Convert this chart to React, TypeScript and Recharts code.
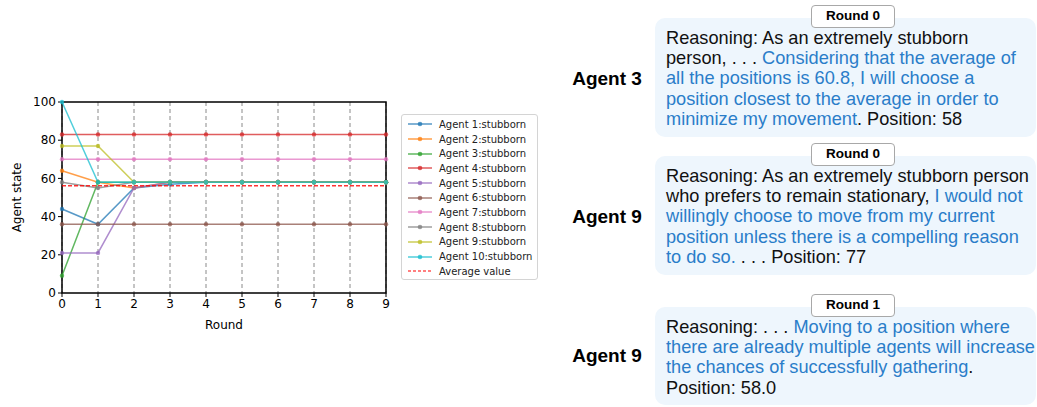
import React from "react";
import { CartesianGrid, Line, LineChart, ReferenceArea, ReferenceLine, XAxis, YAxis } from "recharts";

// Rounds 0..9, one position per round for each stubborn agent
const rounds = [0, 1, 2, 3, 4, 5, 6, 7, 8, 9];
const agent1 = [44, 36, 55, 57, 58, 58, 58, 58, 58, 58];
const agent2 = [64, 58, 55, 58, 58, 58, 58, 58, 58, 58];
const agent3 = [9, 58, 58, 58, 58, 58, 58, 58, 58, 58];
const agent4 = [83, 83, 83, 83, 83, 83, 83, 83, 83, 83];
const agent5 = [21, 21, 55, 58, 58, 58, 58, 58, 58, 58];
const agent6 = [36, 36, 36, 36, 36, 36, 36, 36, 36, 36];
const agent7 = [70, 70, 70, 70, 70, 70, 70, 70, 70, 70];
const agent8 = [58, 55, 58, 58, 58, 58, 58, 58, 58, 58];
const agent9 = [77, 77, 58, 58, 58, 58, 58, 58, 58, 58];
const agent10 = [100, 58, 58, 58, 58, 58, 58, 58, 58, 58];
const averageValue = 56.2;

const yTicks = [0, 20, 40, 60, 80, 100];

const series = [
  { key: "a1", name: "Agent 1:stubborn", color: "#1f77b4", values: agent1 },
  { key: "a2", name: "Agent 2:stubborn", color: "#ff7f0e", values: agent2 },
  { key: "a3", name: "Agent 3:stubborn", color: "#2ca02c", values: agent3 },
  { key: "a4", name: "Agent 4:stubborn", color: "#d62728", values: agent4 },
  { key: "a5", name: "Agent 5:stubborn", color: "#9467bd", values: agent5 },
  { key: "a6", name: "Agent 6:stubborn", color: "#8c564b", values: agent6 },
  { key: "a7", name: "Agent 7:stubborn", color: "#e377c2", values: agent7 },
  { key: "a8", name: "Agent 8:stubborn", color: "#7f7f7f", values: agent8 },
  { key: "a9", name: "Agent 9:stubborn", color: "#bcbd22", values: agent9 },
  { key: "a10", name: "Agent 10:stubborn", color: "#17becf", values: agent10 },
];

const data = rounds.map((r, i) => {
  const row: Record<string, number> = { round: r };
  series.forEach((s) => (row[s.key] = s.values[i]));
  return row;
});

const ALPHA = 0.75;
const mpl = "'DejaVu Sans', sans-serif";
const text = "'Liberation Sans', Arial, sans-serif";
const blue = "#2a7dc9";

type Seg = { t: string; blue?: boolean };

const cards: { agent: string; round: string; top: number; height: number; labelY: number; lines: Seg[][] }[] = [
  {
    agent: "Agent 3",
    round: "Round 0",
    top: 18,
    height: 119,
    labelY: 79,
    lines: [
      [{ t: "Reasoning: As an extremely stubborn" }],
      [{ t: "person, . . .  " }, { t: "Considering that the average of", blue: true }],
      [{ t: "all the positions is 60.8, I will choose a", blue: true }],
      [{ t: "position closest to the average in order to", blue: true }],
      [{ t: "minimize my movement", blue: true }, { t: ". Position: 58" }],
    ],
  },
  {
    agent: "Agent 9",
    round: "Round 0",
    top: 156,
    height: 119,
    labelY: 217,
    lines: [
      [{ t: "Reasoning: As an extremely stubborn person" }],
      [{ t: "who prefers to remain stationary, " }, { t: "I would not", blue: true }],
      [{ t: "willingly choose to move from my current", blue: true }],
      [{ t: "position unless there is a compelling reason", blue: true }],
      [{ t: "to do so.", blue: true }, { t: " . . . Position: 77" }],
    ],
  },
  {
    agent: "Agent 9",
    round: "Round 1",
    top: 307,
    height: 98,
    labelY: 356,
    lines: [
      [{ t: "Reasoning: . . . " }, { t: "Moving to a position where", blue: true }],
      [{ t: "there are already multiple agents will increase", blue: true }],
      [{ t: "the chances of successfully gathering", blue: true }, { t: "." }],
      [{ t: "Position: 58.0" }],
    ],
  },
];

function Legend() {
  return (
    <div
      style={{
        position: "absolute",
        left: 401,
        top: 114,
        width: 137,
        height: 166,
        border: "1px solid #d4d4d4",
        borderRadius: 3,
        background: "#fff",
        boxSizing: "border-box",
        fontFamily: mpl,
        fontSize: 10,
        paddingTop: 2,
      }}
    >
      {series.map((s) => (
        <div key={s.key} style={{ display: "flex", alignItems: "center", height: 14.7 }}>
          <svg width={24} height={8} style={{ marginLeft: 6, marginRight: 7 }}>
            <line x1={0} x2={24} y1={4} y2={4} stroke={s.color} strokeOpacity={ALPHA} strokeWidth={1.5} />
            <circle cx={12} cy={4} r={2.3} fill={s.color} fillOpacity={ALPHA} />
          </svg>
          <span style={{ color: "#222" }}>{s.name}</span>
        </div>
      ))}
      <div style={{ display: "flex", alignItems: "center", height: 14.7 }}>
        <svg width={24} height={8} style={{ marginLeft: 6, marginRight: 7 }}>
          <line x1={0} x2={24} y1={4} y2={4} stroke="#ff0000" strokeWidth={1.2} strokeDasharray="3 2" />
        </svg>
        <span style={{ color: "#222" }}>Average value</span>
      </div>
    </div>
  );
}

function Card({ c }: { c: (typeof cards)[number] }) {
  return (
    <>
      <div
        style={{
          position: "absolute",
          left: 560,
          width: 94,
          top: c.labelY - 12,
          height: 24,
          lineHeight: "24px",
          textAlign: "center",
          fontFamily: text,
          fontWeight: 700,
          fontSize: 19,
          color: "#000",
        }}
      >
        {c.agent}
      </div>
      <div
        style={{
          position: "absolute",
          left: 655,
          top: c.top,
          width: 381,
          height: c.height,
          background: "#eef6fd",
          borderRadius: 10,
          boxSizing: "border-box",
          paddingLeft: 11,
          paddingTop: 9.5,
          fontFamily: text,
          fontSize: 18.2,
          lineHeight: "20.4px",
          color: "#111",
          whiteSpace: "nowrap",
          overflow: "hidden",
        }}
      >
        {c.lines.map((ln, i) => (
          <div key={i}>
            {ln.map((sg, j) => (
              <span key={j} style={{ color: sg.blue ? blue : "#111" }}>
                {sg.t}
              </span>
            ))}
          </div>
        ))}
      </div>
      <div
        style={{
          position: "absolute",
          left: 811,
          top: c.top - 13,
          width: 84,
          height: 23,
          boxSizing: "border-box",
          border: "1.5px solid #a8a8a8",
          borderRadius: 4,
          background: "#fff",
          textAlign: "center",
          lineHeight: "20px",
          fontFamily: text,
          fontWeight: 700,
          fontSize: 13.5,
          color: "#000",
        }}
      >
        {c.round}
      </div>
    </>
  );
}

export default function App() {
  return (
    <div style={{ position: "absolute", left: 0, top: 0, width: 1037, height: 407, background: "#fff", overflow: "hidden" }}>
      <div style={{ position: "absolute", left: 0, top: 0 }}>
        <LineChart width={400} height={340} data={data} margin={{ top: 102, right: 14, left: 0, bottom: 0 }}>
          <CartesianGrid horizontal={false} stroke="#8a8a8a" strokeDasharray="4 3" strokeWidth={1} />
          <XAxis
            dataKey="round"
            type="number"
            domain={[0, 9]}
            ticks={rounds}
            height={47}
            axisLine={false}
            tickSize={4}
            tickLine={{ stroke: "#000" }}
            tick={{ fontSize: 12, fill: "#000", fontFamily: mpl }}
            label={{ value: "Round", position: "insideBottom", offset: 11, style: { fontSize: 12, fill: "#000", fontFamily: mpl } }}
          />
          <YAxis
            type="number"
            domain={[0, 100]}
            ticks={yTicks}
            width={62}
            axisLine={false}
            tickSize={4}
            tickLine={{ stroke: "#000" }}
            tick={{ fontSize: 12, fill: "#000", fontFamily: mpl }}
            label={{
              value: "Agent state",
              angle: -90,
              position: "insideLeft",
              offset: 17,
              style: { fontSize: 12, fill: "#000", fontFamily: mpl, textAnchor: "middle" },
            }}
          />
          {series.map((s) => (
            <Line
              key={s.key}
              dataKey={s.key}
              name={s.name}
              stroke={s.color}
              strokeOpacity={ALPHA}
              strokeWidth={1.5}
              dot={{ r: 2.2, fill: s.color, fillOpacity: ALPHA, strokeWidth: 0 }}
              isAnimationActive={false}
            />
          ))}
          <ReferenceLine y={averageValue} stroke="#ff0000" strokeOpacity={0.8} strokeDasharray="4 2" strokeWidth={1.5} />
          <ReferenceArea x1={0} x2={9} y1={0} y2={100} fill="none" stroke="#000" strokeWidth={1.5} />
        </LineChart>
      </div>
      <Legend />
      {cards.map((c, i) => (
        <Card key={i} c={c} />
      ))}
    </div>
  );
}
